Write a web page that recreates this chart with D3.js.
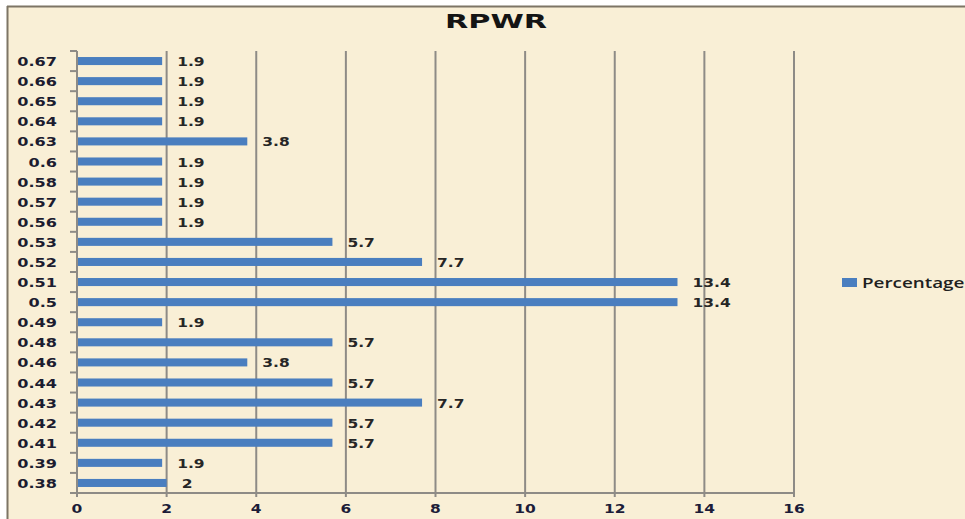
<html lang="en">
<head>
<script src="https://cdn.jsdelivr.net/npm/d3@7"></script>
<style>
body{margin:0;background:#fff;}
</style>
</head>
<body>
<div id="chart"></div>
<script>
// data, top to bottom as in the picture
const categories=["0.67","0.66","0.65","0.64","0.63","0.6","0.58","0.57","0.56","0.53","0.52","0.51","0.5","0.49","0.48","0.46","0.44","0.43","0.42","0.41","0.39","0.38"]
const values=[1.9,1.9,1.9,1.9,3.8,1.9,1.9,1.9,1.9,5.7,7.7,13.4,13.4,1.9,5.7,3.8,5.7,7.7,5.7,5.7,1.9,2]
const xTicks=[0,2,4,6,8,10,12,14,16]
const seriesName="Percentage"
const titleText="RPWR"

const W=965,H=519
const m={left:77,right:171,top:51,bottom:26}
const font="'DejaVu Sans',Verdana,sans-serif"
const sx=1.24 // text in the picture is a bit stretched sideways

svg=d3.select("#chart").append("svg").attr("width",W).attr("height",H)
svg.append("rect").attr("x",0).attr("y",0).attr("width",W).attr("height",H).attr("fill","#fff")
svg.append("rect").attr("x",8).attr("y",7).attr("width",W).attr("height",H).attr("fill","#f9efd6")
svg.append("line").attr("x1",7).attr("x2",W).attr("y1",6.5).attr("y2",6.5).style("stroke","#7d7565").style("stroke-width",2)
svg.append("line").attr("x1",7.5).attr("x2",7.5).attr("y1",6).attr("y2",H).style("stroke","#7d7565").style("stroke-width",2)

x=d3.scaleLinear().domain([0,16]).range([m.left,W-m.right])
y=d3.scaleBand().domain(categories).range([m.top,H-m.bottom]).paddingInner(0.6).paddingOuter(0.3)

function stretchedText(g,tx,ty,txt,anchor,s=sx){
  return g.append("text").attr("transform","translate("+tx+","+ty+") scale("+s+",1)").attr("text-anchor",anchor).text(txt)
}

// gridlines
grid=svg.append("g")
xTicks.slice(1).forEach(t=>{
  grid.append("line").attr("x1",x(t)).attr("x2",x(t)).attr("y1",m.top).attr("y2",H-m.bottom+4).style("stroke","#8e8b86").style("stroke-width",2)
})

// y axis line with ticks between categories
ya=svg.append("g").style("stroke","#8e8b86").style("stroke-width",2)
ya.append("line").attr("x1",x(0)).attr("x2",x(0)).attr("y1",m.top).attr("y2",H-m.bottom+4)
const step=y.step()
for(let i=0;i<=categories.length;i++){
  let yy=m.top+i*step
  ya.append("line").attr("x1",x(0)-7).attr("x2",x(0)).attr("y1",yy).attr("y2",yy)
}
// x axis line
ya.append("line").attr("x1",x(0)-1).attr("x2",x(16)+1).attr("y1",H-m.bottom).attr("y2",H-m.bottom)

// bars
svg.append("g").selectAll("rect").data(categories).enter().append("rect")
  .attr("x",x(0)+1).attr("y",d=>y(d)).attr("height",y.bandwidth())
  .attr("width",(d,i)=>x(values[i])-x(0)-1).attr("fill","#4a7ebf")

// value labels
vl=svg.append("g").style("font-family",font).style("font-size","12.5px").style("font-weight","bold").style("fill","#262626")
categories.forEach((c,i)=>{
  stretchedText(vl,x(values[i])+15,y(c)+y.bandwidth()/2+5,values[i],"start")
})

// y tick labels
yl=svg.append("g").style("font-family",font).style("font-size","13px").style("font-weight","bold").style("fill","#1c1c30")
categories.forEach(c=>{
  stretchedText(yl,57,y(c)+y.bandwidth()/2+5,c,"end")
})

// x tick labels
xl=svg.append("g").style("font-family",font).style("font-size","12.5px").style("font-weight","bold").style("fill","#1c1c38")
xTicks.forEach(t=>{
  stretchedText(xl,x(t),H-m.bottom+20,t,"middle")
})

// title
svg.append("text").attr("x",496).attr("y",28).attr("text-anchor","middle")
  .style("font-family",font).style("font-size","20px").style("font-weight","bold").style("fill","#141414")
  .attr("textLength",102).attr("lengthAdjust","spacingAndGlyphs").text(titleText)

// legend
lg=svg.append("g")
lg.append("rect").attr("x",842).attr("y",278).attr("width",15).attr("height",9).attr("fill","#4a7ebf")
lg.append("text").attr("transform","translate(862,288) scale(1.3,1)").style("font-family","'Open Sans',sans-serif").style("font-size","14.5px").style("font-weight","600").style("fill","#202020").text(seriesName)
</script>
</body>
</html>
